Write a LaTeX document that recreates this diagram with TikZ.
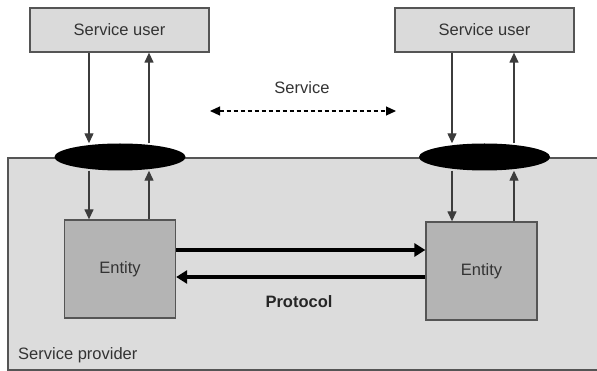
\documentclass[tikz,border=0pt]{standalone}
\usepackage{fontspec}
\setmainfont{Liberation Sans}
\usetikzlibrary{arrows.meta,shapes.geometric}
\definecolor{boxfill}{HTML}{DADADA}
\definecolor{entfill}{HTML}{B4B4B4}
\definecolor{provfill}{HTML}{DCDCDC}
\definecolor{edge}{HTML}{555555}
\definecolor{txt}{HTML}{333333}
\tikzset{
  userbox/.style={draw=edge, line width=1.3pt, fill=boxfill, minimum width=179pt, minimum height=44pt, inner sep=0pt, text=txt, font=\fontsize{16.5}{18}\selectfont},
  entbox/.style={draw=edge, line width=1.3pt, fill=entfill, minimum width=111pt, minimum height=98pt, inner sep=0pt, text=txt, font=\fontsize{16.5}{18}\selectfont},
  sap/.style={ellipse, fill=black, minimum width=131pt, minimum height=27pt, inner sep=0pt},
  thin/.style={draw=edge!70!black, line width=1.3pt, -{Triangle[length=10pt,width=9pt]}},
  proto/.style={line width=4pt, -{Triangle[length=11pt,width=13pt]}},
  lbl/.style={text=txt, font=\fontsize{16.5}{18}\selectfont, inner sep=0pt},
}
\begin{document}
\begin{tikzpicture}[x=1pt,y=-1pt]
\useasboundingbox (0,0) rectangle (597,371);
% service provider area
\draw[draw=edge, line width=1.3pt, fill=provfill] (605,158) -- (8,158) -- (8,370) -- (605,370);
\node[lbl, anchor=west] (prov) at (18,355) {Service provider};

% users
\node[userbox] (u1) at (119.5,30) {Service user};
\node[userbox] (u2) at (484.5,30) {Service user};

% service access points
\node[sap] (s1) at (120,157) {};
\node[sap] (s2) at (484.5,157) {};

% entities
\node[entbox] (e1) at (120,269) {Entity};
\node[entbox] (e2) at (481.5,271) {Entity};

% vertical arrows, left side
\draw[thin] (u1.south -| 89,0) -- (s1.north -| 89,0);
\draw[thin] (s1.north -| 149,0) -- (u1.south -| 149,0);
\draw[thin] (s1.south -| 89,0) -- (e1.north -| 89,0);
\draw[thin] (e1.north -| 149,0) -- (s1.south -| 149,0);

% vertical arrows, right side
\draw[thin] (u2.south -| 452,0) -- (s2.north -| 452,0);
\draw[thin] (s2.north -| 514,0) -- (u2.south -| 514,0);
\draw[thin] (s2.south -| 452,0) -- (e2.north -| 452,0);
\draw[thin] (e2.north -| 514,0) -- (s2.south -| 514,0);

% protocol exchange
\draw[proto] (e1.east |- 0,250) -- (e2.west |- 0,250);
\draw[proto] (e2.west |- 0,277) -- (e1.east |- 0,277);
\node[lbl, font=\fontsize{16.5}{18}\selectfont\bfseries, text=black!85] (plbl) at (299,302) {Protocol};

% service relation
\node[lbl] (slbl) at (302,88) {Service};
\coordinate (sa) at (210,111);
\coordinate (sb) at (396,111);
\draw[line width=1.2pt, dash pattern=on 4pt off 3pt, {Triangle[length=10pt,width=9pt]}-{Triangle[length=10pt,width=9pt]}] (sa) -- (sb);
\end{tikzpicture}
\end{document}
